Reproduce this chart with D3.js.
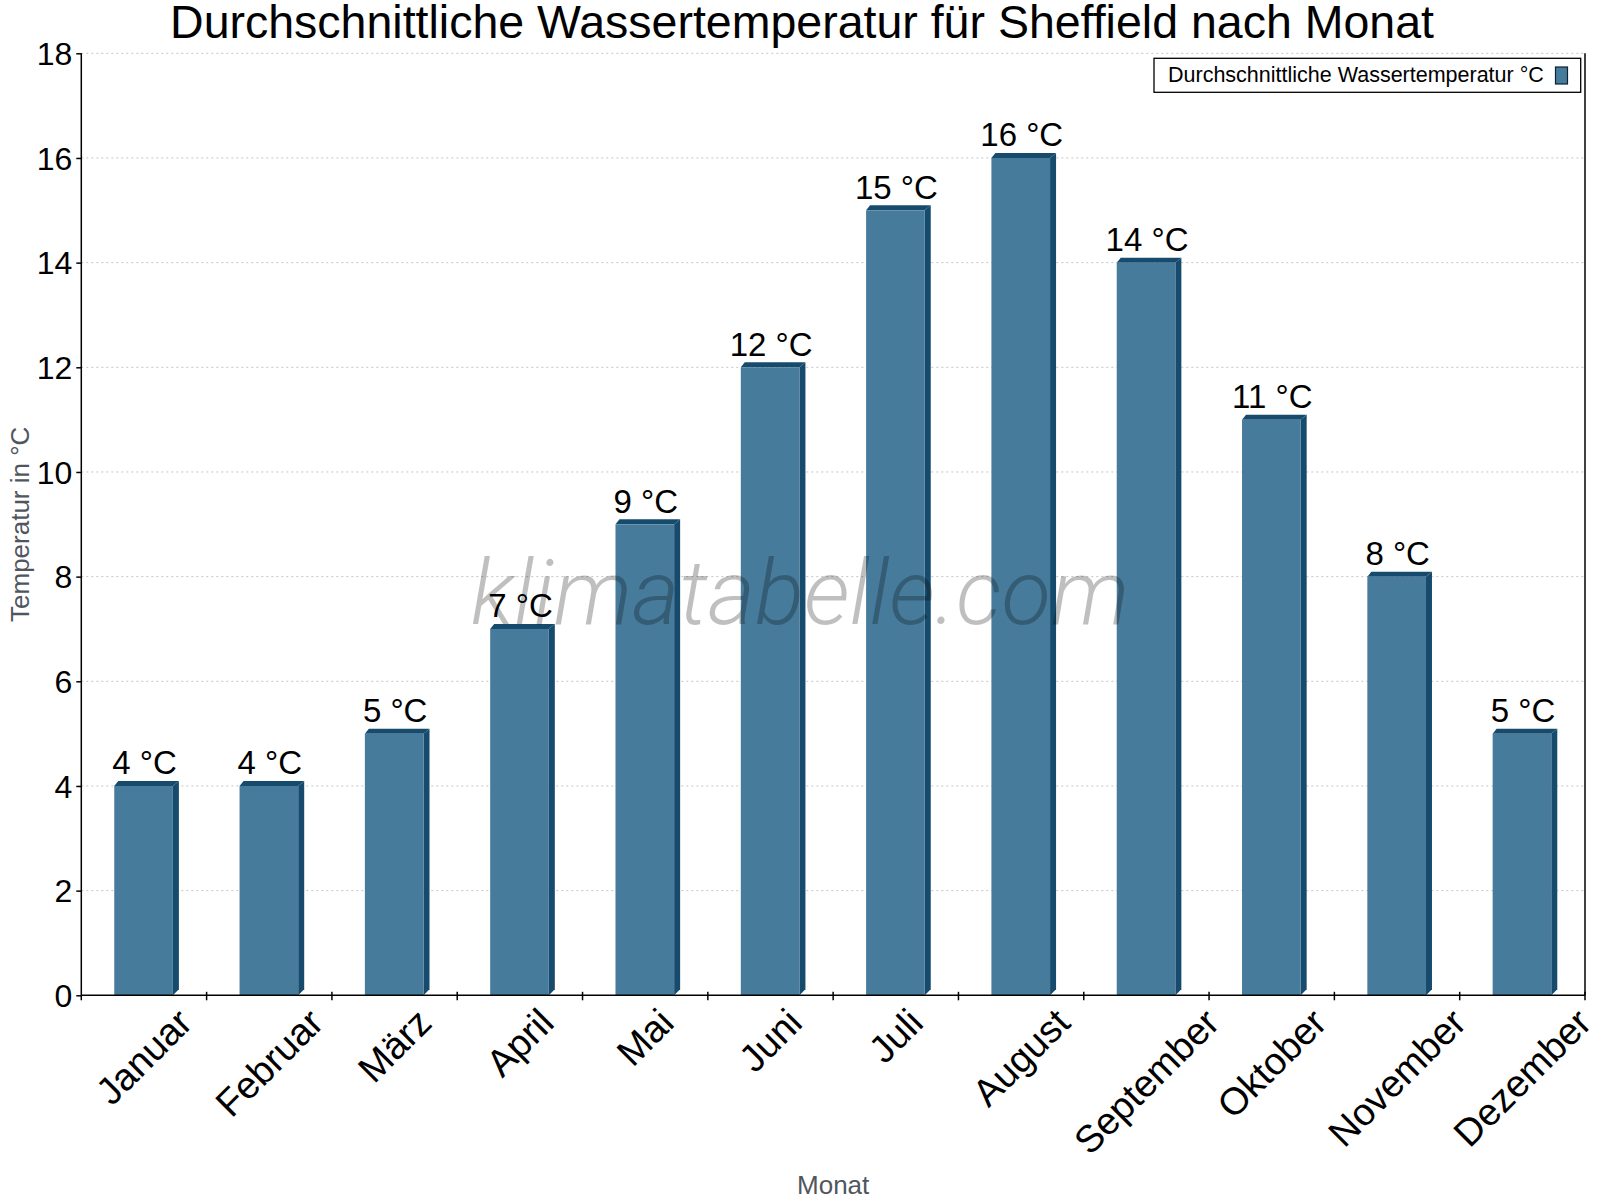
<!DOCTYPE html>
<html>
<head>
<meta charset="utf-8">
<script src="https://cdn.jsdelivr.net/npm/d3@7"></script>
<style>
  html, body { margin: 0; padding: 0; background: #fff; }
  svg { display: block; }
</style>
</head>
<body>
<svg id="chart" width="1600" height="1200"></svg>
<script>
// ---- data ----
const months = ["Januar","Februar","März","April","Mai","Juni","Juli","August","September","Oktober","November","Dezember"];
const waterTemp = [4,4,5,7,9,12,15,16,14,11,8,5];
const yTicks = [0,2,4,6,8,10,12,14,16,18];
const titleText = "Durchschnittliche Wassertemperatur für Sheffield nach Monat";
const seriesName = "Durchschnittliche Wassertemperatur °C";
const yAxisTitle = "Temperatur in °C";
const xAxisTitle = "Monat";
const unit = " °C";
const watermark = "klimatabelle.com";

(function () {
// ---- layout ----
const pL = 81.3, pR = 1585, pT = 53.3, pB = 995.3;
const FONT = "'Liberation Sans', Arial, sans-serif";
const FRONT = "#467b9b", DARK = "#174b6d";

const svg = d3.select("#chart");

const x = d3.scaleBand().domain(months).range([pL, pR]).padding(0);
const y = d3.scaleLinear().domain([0, 18]).range([pB, pT]);
const bw = x.bandwidth();
const barOff = bw * 0.263, barW = bw * 0.468;
const dx = 6, dy = 5;

// grid
svg.append("g").selectAll("line").data(yTicks.filter(d => d > 0)).join("line")
  .attr("x1", pL).attr("x2", pR)
  .attr("y1", d => y(d)).attr("y2", d => y(d))
  .attr("stroke", "#c4c4c4").attr("stroke-width", 1)
  .attr("stroke-dasharray", "2,3");

// bars
const bars = svg.append("g");
months.forEach((m, i) => {
  const v = waterTemp[i];
  const x0 = x(m) + barOff, x1 = x0 + barW;
  const yt = y(v), yb = y(0);
  bars.append("path")
    .attr("d", `M${x1},${yt} L${x1+dx},${yt-dy} L${x1+dx},${yb-dx} L${x1},${yb} Z`)
    .attr("fill", DARK);
  bars.append("path")
    .attr("d", `M${x0},${yt} L${x0+4},${yt-dy} L${x1+dx},${yt-dy} L${x1},${yt} Z`)
    .attr("fill", DARK);
  bars.append("rect")
    .attr("x", x0).attr("y", yt).attr("width", barW).attr("height", yb - yt)
    .attr("fill", FRONT);
});

// watermark
svg.append("text")
  .attr("x", 800).attr("y", 624)
  .attr("text-anchor", "middle")
  .attr("font-family", "Roboto, 'Open Sans', sans-serif")
  .attr("font-style", "italic").attr("font-weight", 300)
  .attr("font-size", 91)
  .attr("fill", "#000").attr("fill-opacity", 0.25)
  .text(watermark);

// value labels
svg.append("g").selectAll("text").data(months).join("text")
  .attr("x", (m) => x(m) + barOff + barW / 2 + 1)
  .attr("y", (m, i) => y(waterTemp[i]) - 11.5)
  .attr("text-anchor", "middle")
  .attr("font-family", FONT).attr("font-size", 33).attr("fill", "#000")
  .text((m, i) => waterTemp[i] + unit);

// y axis
const ya = svg.append("g").attr("transform", `translate(${pL},0)`)
  .call(d3.axisLeft(y).tickValues(yTicks).tickSize(5).tickPadding(4).tickFormat(d3.format("d")));
ya.select(".domain").attr("stroke", "#000").attr("stroke-width", 1.5).attr("d", `M0,${pB}V${pT}`);
ya.selectAll(".tick line").attr("stroke", "#000").attr("stroke-width", 1.5);
ya.selectAll(".tick text").attr("font-family", FONT).attr("font-size", 32).attr("fill", "#000").attr("dy", "0.35em");

// right border
svg.append("line").attr("x1", pR).attr("x2", pR).attr("y1", pT).attr("y2", pB)
  .attr("stroke", "#000").attr("stroke-width", 1.5);

// x axis
svg.append("line").attr("x1", pL).attr("x2", pR).attr("y1", pB).attr("y2", pB)
  .attr("stroke", "#000").attr("stroke-width", 1.5);
const bounds = months.map(m => x(m)).concat([pR]);
svg.append("g").selectAll("line").data(bounds).join("line")
  .attr("x1", d => d).attr("x2", d => d)
  .attr("y1", (d, i) => (i === 0 ? pB : pB - 3.5)).attr("y2", pB + 5)
  .attr("stroke", "#000").attr("stroke-width", 1.5);

// x labels, rotated -45
const XFS = 38;
const labelTop = 1005;
const xl = svg.append("g");
months.forEach(m => {
  const t = xl.append("text")
    .attr("font-family", FONT).attr("font-size", XFS).attr("fill", "#000")
    .attr("text-anchor", "middle").attr("dominant-baseline", "central")
    .text(m);
  const w = t.node().getComputedTextLength();
  const cx = x(m) + bw / 2;
  const cy = labelTop + (w + XFS * 0.8) * Math.SQRT1_2 / 2;
  t.attr("transform", `translate(${cx},${cy}) rotate(-45)`);
});

// axis titles
svg.append("text")
  .attr("transform", `translate(29,${(pT + pB) / 2}) rotate(-90)`)
  .attr("text-anchor", "middle")
  .attr("font-family", FONT).attr("font-size", 26).attr("fill", "#50565e")
  .text(yAxisTitle);
svg.append("text")
  .attr("x", (pL + pR) / 2).attr("y", 1194)
  .attr("text-anchor", "middle")
  .attr("font-family", FONT).attr("font-size", 26).attr("fill", "#50565e")
  .text(xAxisTitle);

// title
svg.append("text")
  .attr("x", 802).attr("y", 38)
  .attr("text-anchor", "middle")
  .attr("font-family", FONT).attr("font-size", 46.5).attr("fill", "#000")
  .text(titleText);

// legend
const lg = svg.append("g");
lg.append("rect").attr("x", 1154).attr("y", 58.3).attr("width", 426.7).attr("height", 34)
  .attr("fill", "#fff").attr("stroke", "#000").attr("stroke-width", 1.3);
lg.append("text").attr("x", 1168).attr("y", 82)
  .attr("font-family", FONT).attr("font-size", 21.5).attr("fill", "#000")
  .text(seriesName);
lg.append("rect").attr("x", 1555.5).attr("y", 67).attr("width", 12).attr("height", 17)
  .attr("fill", FRONT).attr("stroke", "#0d2233").attr("stroke-width", 1.2);
})();
</script>
</body>
</html>
